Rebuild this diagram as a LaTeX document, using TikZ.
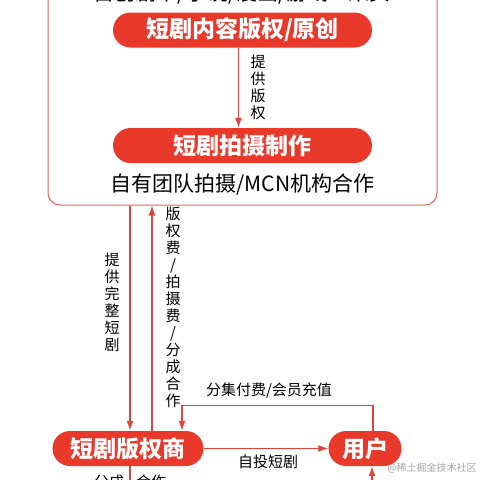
\documentclass[tikz,border=0pt]{standalone}
\usepackage{fontspec}
\setmainfont{Noto Sans CJK SC}
\usetikzlibrary{arrows.meta}
\definecolor{pillred}{RGB}{232,57,43}
\definecolor{linered}{RGB}{222,68,56}
\definecolor{framered}{RGB}{226,100,90}

\tikzset{
    pill/.style = {fill=pillred, text=white, inner sep=0pt, minimum height=35pt,
        rounded corners=17.5pt, font=\bfseries\fontsize{23}{23}\selectfont},
    flow/.style = {draw=linered, line width=1.3pt, -{Latex[length=10pt,width=7pt]}},
    plain/.style = {draw=linered, line width=1.3pt},
    vlabel/.style = {align=center, inner sep=0pt, font=\fontsize{15}{17}\selectfont},
    hlabel/.style = {inner sep=0pt, font=\fontsize{15}{17}\selectfont}
}

\begin{document}
\begin{tikzpicture}[x=1pt, y=-1pt]
    \clip (0,0) rectangle (480,480);
    \fill[white] (0,0) rectangle (480,480);
    % outer frame, cut off at the top
    \node[draw=framered, line width=1pt, rounded corners=12pt, minimum width=389pt,
        minimum height=240pt, inner sep=0pt] (frame) at (242.5,85) {};
    \node[font=\fontsize{21}{21}\selectfont] (src) at (242,-6) {自创剧本/小说/漫画/游戏IP采买};
    \node[pill, minimum width=259pt] (ip) at (242.5,30) {短剧内容版权/原创};
    \node[pill, minimum width=259pt] (shoot) at (242.5,145.5) {短剧拍摄制作};
    \node[font=\fontsize{21}{21}\selectfont] (team) at (242.5,185) {自有团队拍摄/MCN机构合作};
    \node[pill, minimum width=151pt] (dealer) at (128,448.5) {短剧版权商};
    \node[pill, minimum width=73pt] (user) at (365,448.5) {用户};

    \draw[flow] ([xshift=-4pt]ip.south) -- ([xshift=-4pt]shoot.north);
    \node[vlabel] (l1) at (258,87) {提\\供\\版\\权};

    % frame <-> dealer
    \draw[flow] ([xshift=-112.5pt]frame.south) -- ([xshift=2pt]dealer.north);
    \node[vlabel] (l2) at (112,302) {提\\供\\完\\整\\短\\剧};
    \draw[flow] ([xshift=24pt]dealer.north) -- ([xshift=-90.5pt]frame.south);
    \node[vlabel] (l3) at (173,307) {版\\权\\费\\/\\拍\\摄\\费\\/\\分\\成\\合\\作};

    % dealer <-> user
    \draw[flow] (dealer.east) -- (user.west);
    \node[hlabel] (l4) at (268,462) {自投短剧};
    \draw[flow] ([xshift=8pt]user.north) -- ++(0,-25) -| ([xshift=54pt]dealer.north);
    \node[hlabel] (l5) at (269,391) {分集付费/会员充值};

    % bottom, cut off
    \coordinate (down) at (130,500);
    \coordinate (up) at (372,500);
    \draw[plain] ([xshift=2pt]dealer.south) -- (down);
    \node[hlabel] (l6) at (109,482) {分成};
    \node[hlabel] (l7) at (151,482) {合作};
    \draw[flow] (up) -- ([xshift=7pt]user.south);
    \node[inner sep=0pt, text=black!35, font=\fontsize{10}{10}\selectfont] (mark) at (432,468) {@稀土掘金技术社区};
\end{tikzpicture}
\end{document}
